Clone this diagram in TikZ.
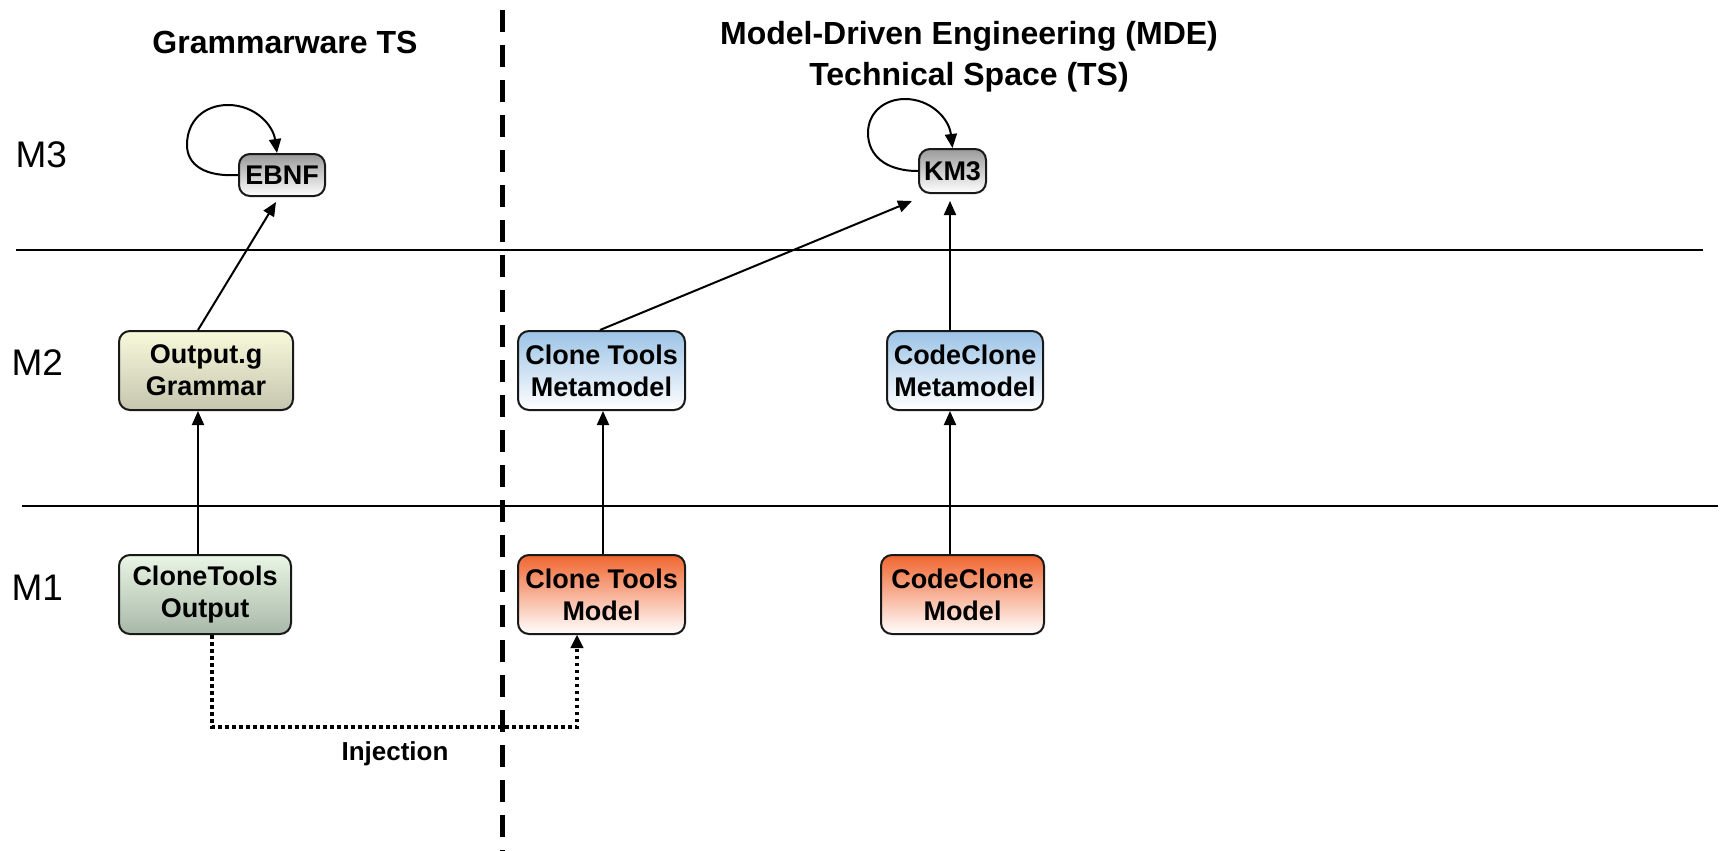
\documentclass[tikz,border=0pt]{standalone}
\usepackage{fontspec}
\setmainfont{Liberation Sans}
\usetikzlibrary{arrows.meta,calc}
\definecolor{grtop}{HTML}{9A9A9A}
\definecolor{yltop}{HTML}{F8F8DA}
\definecolor{ylbot}{HTML}{C6C6B0}
\definecolor{gntop}{HTML}{E9F5E5}
\definecolor{gnbot}{HTML}{A8B8A8}
\definecolor{bltop}{HTML}{9CC3E6}
\definecolor{ortop}{HTML}{F06530}
\begin{document}
\begin{tikzpicture}[x=1pt,y=-1pt,
  box/.style={draw=black!90, line width=2pt, rounded corners=11pt,
    font=\fontsize{27}{32}\selectfont\bfseries, align=center, inner sep=0pt, text=black},
  graybox/.style={top color=grtop, bottom color=white},
  yellowbox/.style={top color=yltop, bottom color=ylbot},
  greenbox/.style={top color=gntop, bottom color=gnbot},
  bluebox/.style={top color=bltop, bottom color=white},
  orangebox/.style={top color=ortop, bottom color=white},
  arr/.style={line width=2pt, -{Triangle[length=14pt,width=12pt]}},
  injarrow/.style={line width=3.5pt, dash pattern=on 3.5pt off 3.5pt, -{Triangle[length=13pt,width=13pt,line width=0.5pt]}},
  sepline/.style={line width=1.5pt},
  divider/.style={line width=5pt, dash pattern=on 22pt off 13pt},
  title/.style={font=\fontsize{32}{41}\selectfont\bfseries, align=center},
  level/.style={font=\fontsize{37}{40}\selectfont, anchor=west},
]
\useasboundingbox (0,0) rectangle (1725,851);

% separators
\coordinate (h1a) at (16,250);  \coordinate (h1b) at (1703,250);
\coordinate (h2a) at (22,506);  \coordinate (h2b) at (1718,506);
\draw[sepline] (h1a) -- (h1b);
\draw[sepline] (h2a) -- (h2b);
\coordinate (dtop) at (502,10); \coordinate (dbot) at (502,851);
\draw[divider] (dtop) -- (dbot);

% titles and levels
\node[title] (tgw) at (285,42) {Grammarware TS};
\node[title] (tmde) at (969,57) {Model-Driven Engineering (MDE)\\Technical Space (TS)};
\node[level] (m3) at (12,155) {M3};
\node[level] (m2) at (8,363) {M2};
\node[level] (m1) at (8,588) {M1};

% nodes
\node[box, graybox, minimum width=86pt, minimum height=42pt] (ebnf) at (282,175) {EBNF};
\node[box, graybox, minimum width=67pt, minimum height=44pt] (km3) at (952.5,171) {KM3};
\node[box, yellowbox, minimum width=174pt, minimum height=79pt] (og) at (206,370.5) {Output.g\\Grammar};
\node[box, bluebox, minimum width=167pt, minimum height=79pt] (ctmm) at (601.5,370.5) {Clone Tools\\Metamodel};
\node[box, bluebox, minimum width=156pt, minimum height=79pt] (ccmm) at (965,370.5) {CodeClone\\Metamodel};
\node[box, greenbox, minimum width=172pt, minimum height=79pt] (cto) at (205,594.5) {CloneTools\\Output};
\node[box, orangebox, minimum width=167pt, minimum height=79pt] (ctm) at (601.5,594.5) {Clone Tools\\Model};
\node[box, orangebox, minimum width=163pt, minimum height=79pt] (ccm) at (962.5,594.5) {CodeClone\\Model};

% conformance arrows
\draw[arr] ([xshift=-7pt]cto.north) -- ([xshift=-8pt]og.south);
\draw[arr] ([xshift=1.5pt]ctm.north) -- ([xshift=1.5pt]ctmm.south);
\draw[arr] ([xshift=-12.5pt]ccm.north) -- ([xshift=-15pt]ccmm.south);
\draw[arr] ([xshift=-8pt]og.north) -- ([xshift=-6pt,yshift=-5pt]ebnf.south);
\draw[arr] ([xshift=-1.5pt]ctmm.north) -- ([shift={(-6pt,-7pt)}]km3.south west);
\draw[arr] ([xshift=-15pt]ccmm.north) -- ([xshift=-2.5pt,yshift=-7pt]km3.south);

% self loops
\draw[arr] (ebnf.west) .. controls (205,177) and (187,165) .. (187,145)
  .. controls (187,120) and (205,105) .. (228,105)
  .. controls (255,105) and (273,125) .. ([xshift=-5pt]ebnf.north);
\draw[arr] (km3.west) .. controls (885,171) and (868,155) .. (868,133)
  .. controls (868,112) and (885,99) .. (905,99)
  .. controls (930,99) and (949,118) .. (km3.north);

% injection
\coordinate (injc) at (395,727);
\draw[injarrow] ([xshift=7pt]cto.south) |- (injc) -| ([xshift=-24.5pt]ctm.south);
\node[font=\fontsize{26}{30}\selectfont\bfseries] (injl) at (395,754) {Injection};
\end{tikzpicture}
\end{document}
